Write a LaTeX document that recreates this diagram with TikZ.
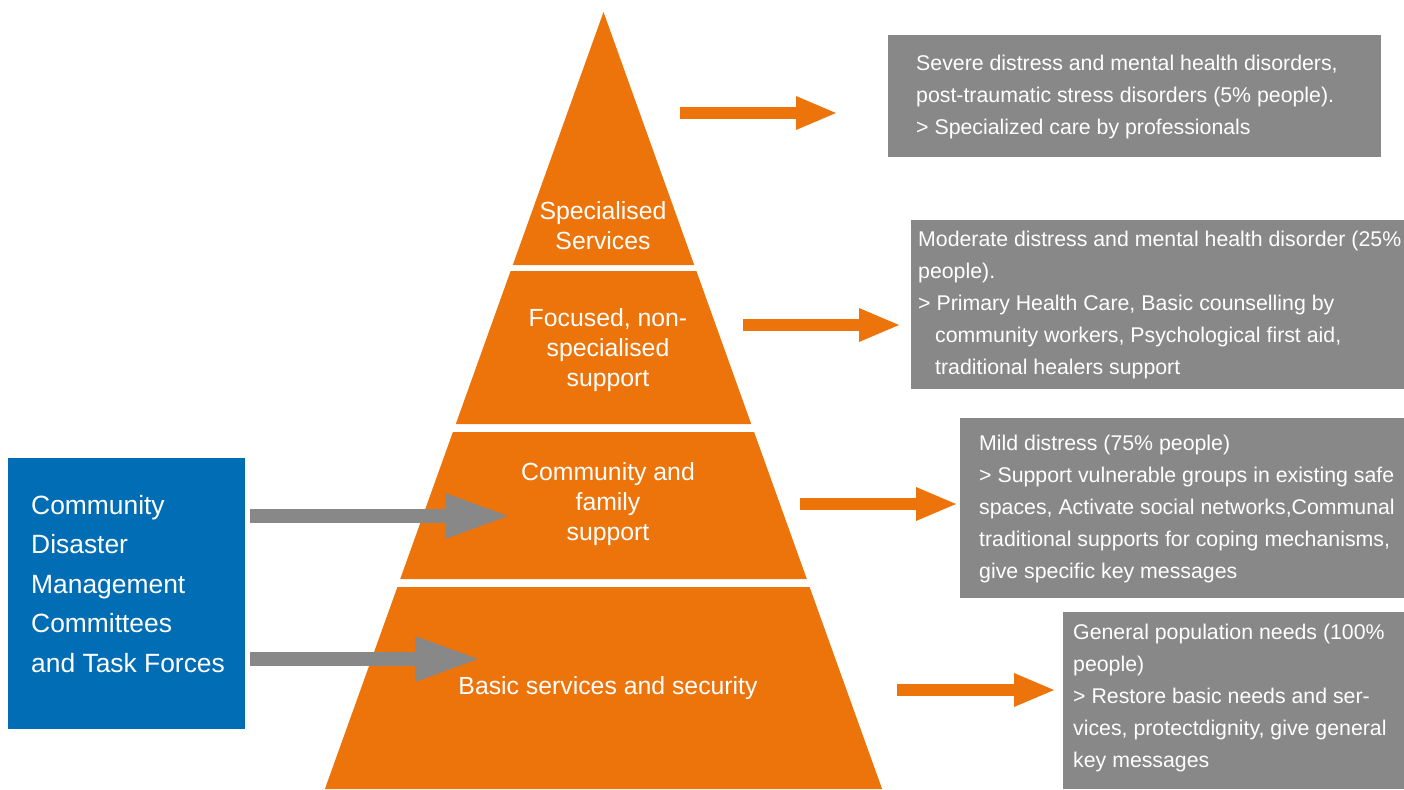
\documentclass[tikz,border=0pt]{standalone}
\usepackage{fontspec}
\setmainfont{Liberation Sans}
\usetikzlibrary{arrows.meta}
\definecolor{pyrorange}{RGB}{237,116,11}
\definecolor{boxgray}{RGB}{136,136,136}
\definecolor{cdmblue}{RGB}{0,109,180}
\begin{document}
\begin{tikzpicture}[x=1pt,y=-1pt,
  layer/.style={fill=pyrorange},
  pyrtext/.style={text=white, align=center, font=\fontsize{24.8}{30}\selectfont, inner sep=0},
  graybox/.style={fill=boxgray, inner sep=0, outer sep=0, anchor=north west},
  boxtext/.style={text=white, align=left, font=\fontsize{21.3}{32}\selectfont, inner sep=0, anchor=north west},
  orangearrow/.style={draw=pyrorange, line width=12pt, -{Triangle[length=40pt,width=34pt,line width=0pt]}},
  grayarrow/.style={draw=boxgray, line width=14pt, -{Triangle[length=63pt,width=46pt,line width=0pt]}}]
\useasboundingbox (0,0) rectangle (1404,789);
% pyramid layers
\fill[layer] (603.5,12) -- (694.2,265) -- (512.8,265) -- cycle;
\fill[layer] (510.6,271) -- (696.4,271) -- (751.2,424) -- (455.8,424) -- cycle;
\fill[layer] (452.9,432) -- (754.1,432) -- (806.8,579) -- (400.2,579) -- cycle;
\fill[layer] (397.4,587) -- (809.6,587) -- (882.1,789) -- (324.9,789) -- cycle;
\node[pyrtext] (p1) at (603,226) {Specialised\\Services};
\node[pyrtext] (p2) at (608,350) {Focused, non-\\specialised\\support};
\node[pyrtext] (p3) at (608,504) {Community and\\family\\support};
\node[pyrtext] (p4) at (608,688) {Basic services and security};
% blue box
\node[graybox, fill=cdmblue, minimum width=237pt, minimum height=271pt] (cdm) at (8,458) {};
\node[text=white, align=left, anchor=west, inner sep=0, font=\fontsize{26.4}{39.5}\selectfont] (cdmt) at (31,584)
  {Community\\Disaster\\Management\\Committees\\and Task Forces};
% gray boxes
\node[graybox, minimum width=493pt, minimum height=122pt] (b1) at (888,35) {};
\node[graybox, minimum width=493pt, minimum height=169pt] (b2) at (911,220) {};
\node[graybox, minimum width=444pt, minimum height=180pt] (b3) at (960,418) {};
\node[graybox, minimum width=341pt, minimum height=177pt] (b4) at (1063,612) {};
\node[boxtext] (t1) at (916,55) {Severe distress and mental health disorders,\\post-traumatic stress disorders (5\% people).\\> Specialized care by professionals};
\node[boxtext] (t2) at (918,231) {Moderate distress and mental health disorder (25\%\\people).\\> Primary Health Care, Basic counselling by\\\hspace*{17pt}community workers, Psychological first aid,\\\hspace*{17pt}traditional healers support};
\node[boxtext] (t3) at (979,435) {Mild distress (75\% people)\\> Support vulnerable groups in existing safe\\spaces, Activate social networks,Communal\\traditional supports for coping mechanisms,\\give specific key messages};
\node[boxtext] (t4) at (1073,624) {General population needs (100\%\\people)\\> Restore basic needs and ser-\\vices, protectdignity, give general\\key messages};
% arrow coordinates
\coordinate (o1s) at (680,113); \coordinate (o1e) at (836,113);
\coordinate (o2s) at (743,325); \coordinate (o2e) at (899,325);
\coordinate (o3s) at (800,504); \coordinate (o3e) at (956,504);
\coordinate (o4s) at (897,690); \coordinate (o4e) at (1054,690);
\coordinate (g1s) at (250,516); \coordinate (g1e) at (508,516);
\coordinate (g2s) at (250,659); \coordinate (g2e) at (478,659);
\draw[orangearrow] (o1s) -- (o1e);
\draw[orangearrow] (o2s) -- (o2e);
\draw[orangearrow] (o3s) -- (o3e);
\draw[orangearrow] (o4s) -- (o4e);
\draw[grayarrow] (g1s) -- (g1e);
\draw[grayarrow] (g2s) -- (g2e);
\end{tikzpicture}
\end{document}
